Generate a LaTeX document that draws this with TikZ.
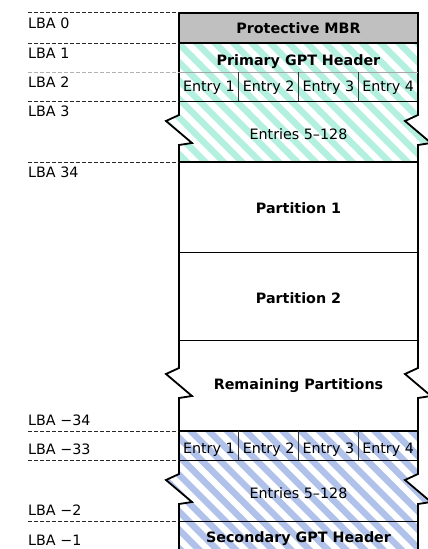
\documentclass[tikz,border=0pt]{standalone}
\usepackage{fontspec}
\setmainfont{DejaVu Sans}
\definecolor{gptmint}{RGB}{180,240,224}
\definecolor{gptblue}{RGB}{176,194,234}
\definecolor{mbrgray}{RGB}{192,192,192}
\definecolor{guidegray}{RGB}{40,40,40}
% zigzag breaks, right side going down, left side going up
\newcommand{\zigright}[1]{-- (418,#1) -- (405,#1+6) -- (431,#1+28) -- (418,#1+30)}
\newcommand{\zigleft}[1]{-- (179,#1+30) -- (192,#1+28) -- (166,#1+6) -- (179,#1)}

\tikzset{
  lba/.style={anchor=base west,inner sep=0pt},
  field/.style={anchor=base,inner sep=0pt},
  hdr/.style={field,font=\fontsize{14.3}{17}\selectfont\bfseries},
  guide/.style={guidegray,line width=1pt,dash pattern=on 4pt off 2pt},
  stripe/.style={line width=6.5pt,#1},
}

\begin{document}
\begin{tikzpicture}[x=1pt,y=-1pt,font=\fontsize{14.3}{17}\selectfont]
\useasboundingbox (0,0) rectangle (428,549);

\fill[mbrgray] (179,13) rectangle (418,43);
\begin{scope}
  \clip (179,43) -- (418,43) \zigright{115} -- (418,162) -- (179,162) \zigleft{115} -- cycle;
  \foreach \k in {0,...,23}
    \draw[stripe=gptmint] (28+18.4*\k,40) -- ++(130,130);
\end{scope}
\begin{scope}
  \clip (179,431) -- (418,431) \zigright{474} -- (418,560) -- (179,560) \zigleft{474} -- cycle;
  \foreach \k in {0,...,23}
    \draw[stripe=gptblue] (22+18.4*\k,428) -- ++(135,135);
\end{scope}

\draw[line width=1.8pt] (179,13) -- (418,13) \zigright{115} \zigright{368} \zigright{474} -- (418,560)
  -- (179,560) \zigleft{474} \zigleft{368} \zigleft{115} -- cycle;
\foreach \y in {43,162,431}
  \draw[line width=1.8pt] (179,\y) -- (418,\y);
\foreach \y in {101,252,340,460,521}
  \draw[line width=0.9pt] (179,\y) -- (418,\y);
\draw[gray!70,line width=0.8pt] (179,72) -- (418,72);
\foreach \x in {238.75,298.5,358.25} {
  \draw[line width=0.8pt,black!80] (\x,72) -- (\x,101);
  \draw[line width=0.8pt,black!80] (\x,431) -- (\x,460);
}

\node[hdr] (mbr) at (298.5,33) {Protective MBR};
\node[hdr] (phdr) at (298.5,65) {Primary GPT Header};
\foreach \i in {1,...,4}
  \node[field] (pe\i) at (149.125+59.75*\i,91.5) {Entry \i};
\node[field] (prest) at (298.5,139) {Entries 5–128};
\node[hdr] (part1) at (298.5,213) {Partition 1};
\node[hdr] (part2) at (298.5,303) {Partition 2};
\node[hdr] (remain) at (298.5,389) {Remaining Partitions};
\foreach \i in {1,...,4}
  \node[field] (se\i) at (149.125+59.75*\i,453) {Entry \i};
\node[field] (srest) at (298.5,498) {Entries 5–128};
\node[hdr] (shdr) at (298.5,542) {Secondary GPT Header};

\foreach \y/\n in {12.5/0,43/1,101/3,162/34} {
  \draw[guide] (28,\y) -- (179,\y);
  \node[lba] (lba\n) at (28,\y+15.5) {LBA \n};
}
\draw[guide,gray!60] (28,72) -- (179,72);
\node[lba] (lba2) at (28,87.5) {LBA 2};
\foreach \y/\n in {431/34,460/33,521/2} {
  \draw[guide] (28,\y) -- (179,\y);
  \node[lba] (lbam\n) at (28,\y-5.5) {LBA −\n};
}
\node[lba] (lbam1) at (28,545) {LBA −1};
\end{tikzpicture}
\end{document}
